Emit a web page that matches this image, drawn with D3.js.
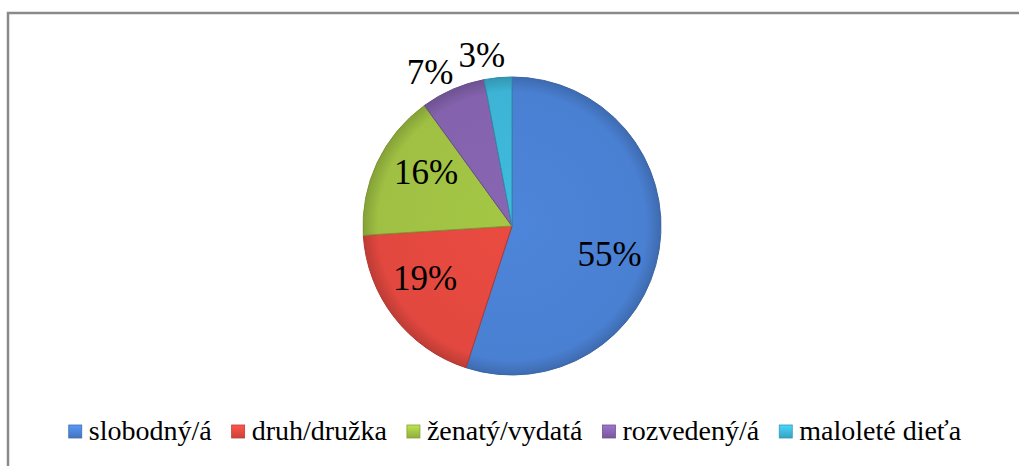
<!DOCTYPE html>
<html>
<head>
  <meta charset="utf-8">
  <script src="https://cdn.jsdelivr.net/npm/d3@7"></script>
  <style>
    body { margin: 0; background: #fff; }
  </style>
</head>
<body>
  <svg id="chart" width="1019" height="466"></svg>
  <script>
    // data
    var categories = ["slobodný/á", "druh/družka", "ženatý/vydatá", "rozvedený/á", "maloleté dieťa"];
    var values = [55, 19, 16, 7, 3];
    var labels = ["55%", "19%", "16%", "7%", "3%"];
    var colors = ["#4a80d2", "#e2483f", "#9fc043", "#8462ad", "#3db4d6"];

    var FONT = "Liberation Serif, Times New Roman, serif";

    var svg = d3.select("#chart"),
        width = +svg.attr("width"),
        height = +svg.attr("height");

    // frame (only top and left edges show in the picture)
    svg.append("path")
      .attr("d", "M8," + height + "V13H" + width)
      .attr("fill", "none")
      .attr("stroke", "#8a8a8a")
      .attr("stroke-width", 2.5);

    var cx = 512, cy = 226, r = 149;

    var defs = svg.append("defs");
    colors.forEach(function(c, i) {
      var g = defs.append("radialGradient")
        .attr("id", "grad" + i)
        .attr("gradientUnits", "userSpaceOnUse")
        .attr("cx", 0).attr("cy", 0).attr("r", r);
      g.append("stop").attr("offset", "0%").attr("stop-color", d3.color(c).brighter(0.1));
      g.append("stop").attr("offset", "90%").attr("stop-color", c);
      g.append("stop").attr("offset", "100%").attr("stop-color", d3.color(c).darker(0.5));
    });

    var pie = d3.pie().sort(null).value(function(d) { return d; });
    var arcs = pie(values);

    var arc = d3.arc().innerRadius(0).outerRadius(r);

    var g = svg.append("g").attr("transform", "translate(" + cx + "," + cy + ")");

    g.selectAll("path.slice")
      .data(arcs)
      .enter().append("path")
        .attr("class", "slice")
        .attr("d", arc)
        .attr("fill", function(d, i) { return "url(#grad" + i + ")"; })
        .attr("stroke", function(d, i) { return d3.color(colors[i]).darker(0.7); })
        .attr("stroke-width", 1);

    g.selectAll("text.lbl")
      .data(arcs)
      .enter().append("text")
        .attr("class", "lbl")
        .attr("transform", function(d) {
          var a = (d.startAngle + d.endAngle) / 2;
          var small = (d.endAngle - d.startAngle) < 0.6;
          var rr = small ? r * 1.17 : r * 0.68;
          a += small ? -0.08 : 0.12;
          return "translate(" + [Math.sin(a) * rr, -Math.cos(a) * rr] + ")";
        })
        .attr("text-anchor", "middle")
        .attr("dy", "0.35em")
        .attr("font-family", FONT)
        .attr("font-size", 35)
        .attr("fill", "#000")
        .text(function(d, i) { return labels[i]; });

    // legend
    colors.forEach(function(c, i) {
      var lg = defs.append("linearGradient").attr("id", "lg" + i)
        .attr("x1", 0).attr("y1", 0).attr("x2", 0).attr("y2", 1);
      lg.append("stop").attr("offset", "0%").attr("stop-color", d3.color(c).brighter(0.5));
      lg.append("stop").attr("offset", "100%").attr("stop-color", d3.color(c).darker(0.3));
    });

    var legend = svg.append("g").attr("class", "legend");
    var items = legend.selectAll("g")
      .data(categories)
      .enter().append("g");

    items.append("rect")
      .attr("width", 13).attr("height", 13)
      .attr("y", -15)
      .attr("fill", function(d, i) { return "url(#lg" + i + ")"; })
      .attr("stroke", function(d, i) { return d3.color(colors[i]).darker(0.5); })
      .attr("stroke-width", 0.8);

    items.append("text")
      .attr("x", 20)
      .attr("font-family", FONT)
      .attr("font-size", 28)
      .attr("fill", "#000")
      .text(function(d) { return d; });

    var x = 0;
    items.each(function() {
      var w = d3.select(this).select("text").node().getComputedTextLength();
      d3.select(this).attr("transform", "translate(" + x + ",0)");
      x += 20 + w + 20;
    });
    var total = x - 20;
    legend.attr("transform", "translate(" + (515 - total / 2) + ",440)");
  </script>
</body>
</html>
